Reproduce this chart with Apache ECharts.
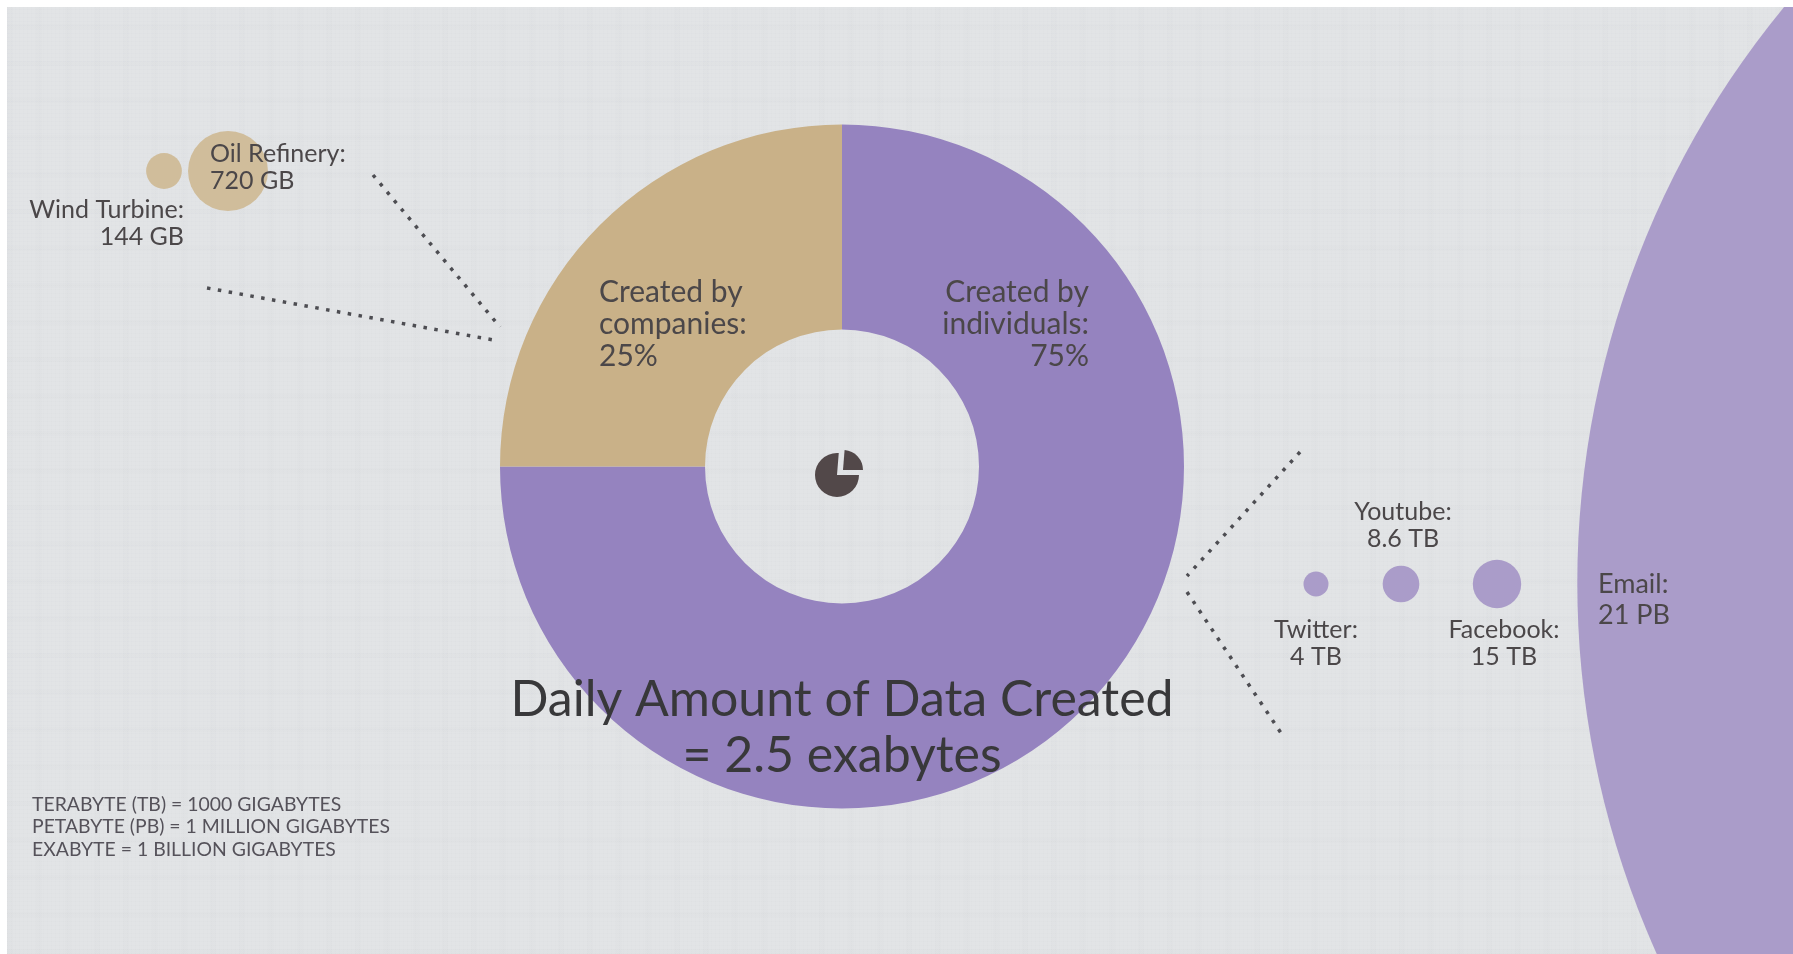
<!DOCTYPE html>
<html>
<head>
<meta charset="utf-8">
<title>Daily Amount of Data Created</title>
<script src="https://cdn.jsdelivr.net/npm/echarts@6/dist/echarts.min.js"></script>
<style>
  html, body { margin: 0; padding: 0; background: #fff; }
  #paper {
    position: absolute; left: 7px; top: 7px; width: 1786px; height: 947px;
    background-color: #e2e4e6;
    background-image:
      repeating-linear-gradient(90deg, rgba(90,95,105,.011) 0 1px, transparent 1px 4px),
      repeating-linear-gradient(0deg, rgba(90,95,105,.011) 0 1px, transparent 1px 4px),
      repeating-linear-gradient(90deg, rgba(90,95,105,.01) 0 6px, transparent 6px 29px),
      repeating-linear-gradient(0deg, rgba(90,95,105,.01) 0 5px, transparent 5px 37px);
  }
  #chart { position: absolute; left: 0; top: 0; width: 1793px; height: 954px; }
</style>
</head>
<body>
<div id="paper"></div>
<div id="chart"></div>
<script>
// share of the daily data
var shareNames = ['Created by\nindividuals:', 'Created by\ncompanies:'];
var shareValues = [75, 25];

// things that make data, companies side in GB
var companyNames = ['Wind Turbine:', 'Oil Refinery:'];
var companyValues = [144, 720];
var companyLabels = ['144 GB', '720 GB'];

// individuals side in TB (21 PB = 21000 TB)
var personalNames = ['Twitter:', 'Youtube:', 'Facebook:', 'Email:'];
var personalValues = [4, 8.6, 15, 21000];
var personalLabels = ['4 TB', '8.6 TB', '15 TB', '21 PB'];

var titleText = 'Daily Amount of Data Created\n= 2.5 exabytes';
var noteText = 'TERABYTE (TB) = 1000 GIGABYTES\nPETABYTE (PB) = 1 MILLION GIGABYTES\nEXABYTE = 1 BILLION GIGABYTES';

// layout only, the axes run in page units
var companyPos = [[164, 171], [228, 171]];
var personalPos = [[1316, 584], [1401, 584], [1497, 584], [2483, 583]];
var companyText = [
  { x: 184, y: 196, align: 'right' },
  { x: 210, y: 140, align: 'left' }
];
var personalText = [
  { x: 1316, y: 616, align: 'center' },
  { x: 1403, y: 498, align: 'center' },
  { x: 1504, y: 616, align: 'center' },
  { x: 1598, y: 569, align: 'left', fontSize: 27, lineHeight: 31 }
];
var shareText = [
  { x: 1089, y: 276, align: 'right' },
  { x: 599, y: 276, align: 'left' }
];
var leaders = [
  [[373, 175], [500, 327]],
  [[207, 288], [499, 341]],
  [[1300, 452], [1187, 576]],
  [[1187, 592], [1283, 736]]
];

var FONT = 'Lato';
var INK = '#4b4749';

function sizeBy(k) {
  return function (v) { return 2 * k * Math.sqrt(v[2]); };
}

function bubbles(names, values, labels, pos, textPos, k, color) {
  return {
    type: 'scatter',
    silent: true,
    clip: false,
    symbolSize: sizeBy(k),
    itemStyle: { color: color, opacity: 1 },
    label: {
      show: true,
      color: INK,
      fontFamily: FONT,
      fontSize: 25,
      lineHeight: 27,
      formatter: function (p) { return names[p.dataIndex] + '\n' + labels[p.dataIndex]; }
    },
    labelLayout: function (p) {
      var t = textPos[p.dataIndex];
      return { x: t.x, y: t.y, align: t.align, verticalAlign: 'top' };
    },
    data: values.map(function (v, i) {
      var item = { value: [pos[i][0], pos[i][1], v] };
      if (textPos[i].fontSize) {
        item.label = { fontSize: textPos[i].fontSize, lineHeight: textPos[i].lineHeight };
      }
      return item;
    })
  };
}

var chart = echarts.init(document.getElementById('chart'));

var series = [
  {
    type: 'pie',
    silent: true,
    center: [842, 466.5],
    radius: [137, 342],
    startAngle: 90,
    color: ['#9583bf', '#c9b188'],
    label: {
      show: true,
      position: 'inside',
      color: INK,
      fontFamily: FONT,
      fontSize: 30,
      lineHeight: 32,
      formatter: function (p) { return p.name + '\n' + p.value + '%'; }
    },
    labelLine: { show: false },
    labelLayout: function (p) {
      var t = shareText[p.dataIndex];
      return { x: t.x, y: t.y, align: t.align, verticalAlign: 'top' };
    },
    data: shareValues.map(function (v, i) { return { name: shareNames[i], value: v }; })
  },
  bubbles(companyNames, companyValues, companyLabels, companyPos, companyText, 1.49, '#d0bd9b'),
  bubbles(personalNames, personalValues, personalLabels, personalPos, personalText, 6.25, '#aa9cc9')
];

leaders.forEach(function (seg) {
  series.push({
    type: 'line',
    silent: true,
    showSymbol: false,
    lineStyle: { color: '#4d4d52', width: 3.5, type: [3.5, 7.5] },
    data: seg
  });
});

chart.setOption({
  backgroundColor: 'transparent',
  animation: false,
  title: [
    {
      text: titleText,
      left: 837,
      top: 667,
      textAlign: 'center',
      textStyle: { color: '#38383a', fontFamily: FONT, fontWeight: 'normal', fontSize: 50, lineHeight: 56 }
    },
    {
      text: noteText,
      left: 27,
      top: 788,
      textStyle: { color: '#55525a', fontFamily: FONT, fontWeight: 'normal', fontSize: 19.4, lineHeight: 22.8 }
    }
  ],
  graphic: [
    // white margin on top of the Email circle
    { type: 'rect', z: 100, shape: { x: 0, y: 0, width: 1793, height: 7 }, style: { fill: '#fff' } },
    { type: 'sector', z: 10, shape: { cx: 837, cy: 475, r: 22, r0: 0, startAngle: 0, endAngle: Math.PI * 1.5 + 0.08 }, style: { fill: '#524849' } },
    { type: 'sector', z: 10, shape: { cx: 843, cy: 470, r: 20, r0: 0, startAngle: -Math.PI / 2 + 0.08, endAngle: 0 }, style: { fill: '#524849' } }
  ],
  // page units on both axes, the Email circle centre sits off the page
  grid: { left: 0, top: 0, right: 0, bottom: 0 },
  xAxis: { type: 'value', show: false, min: 0, max: 1793 },
  yAxis: { type: 'value', show: false, inverse: true, min: 0, max: 954 },
  series: series
});
</script>
</body>
</html>
